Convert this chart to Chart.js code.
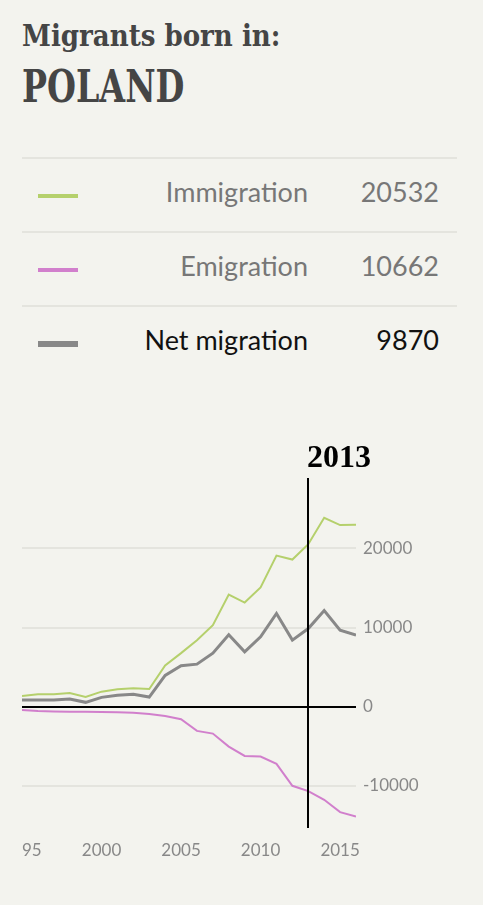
<!DOCTYPE html>
<html>
<head>
<meta charset="utf-8">
<script src="https://cdn.jsdelivr.net/npm/chart.js@4.4.0/dist/chart.umd.min.js"></script>
<style>
html, body { margin: 0; padding: 0; background: #f3f3ee; }
body { width: 483px; height: 905px; position: relative; overflow: hidden; font-family: Lato, sans-serif; }
.title { position: absolute; left: 22px; margin: 0; color: #454545; font-family: "DejaVu Serif", serif; font-weight: bold; font-stretch: condensed; white-space: nowrap; transform-origin: left top; }
#t1 { top: 22px; font-size: 29px; line-height: 29px; }
#t2 { top: 65px; font-size: 44px; line-height: 44px; transform: scaleX(0.84); }
.rule { position: absolute; left: 22px; width: 435px; height: 2px; background: #e4e4de; }
.swatch { position: absolute; left: 38px; width: 40px; }
.lbl, .val { position: absolute; font-size: 27px; line-height: 32px; white-space: nowrap; text-align: right; }
.lbl { right: 175px; }
.val { right: 44px; }
#chartBox { position: absolute; left: 22px; top: 440px; width: 461px; height: 465px; }
</style>
</head>
<body>
<div id="t1" class="title">Migrants born in:</div>
<div id="t2" class="title">POLAND</div>
<div id="legend"></div>
<div id="chartBox"><canvas id="migrationChart" width="461" height="465"></canvas></div>

<script>
// Poland, migrants by country of birth
var years = [1995, 1996, 1997, 1998, 1999, 2000, 2001, 2002, 2003, 2004, 2005,
             2006, 2007, 2008, 2009, 2010, 2011, 2012, 2013, 2014, 2015, 2016];
var immigration = [1350, 1560, 1560, 1730, 1220, 1900, 2190, 2320, 2230, 5220, 6770,
                   8400, 10300, 14170, 13160, 15060, 19090, 18590, 20532, 23880, 22950, 23000];
var emigration = [-420, -540, -600, -630, -640, -670, -700, -760, -920, -1170, -1590,
                  -3060, -3400, -5040, -6220, -6300, -7230, -10000, -10662, -11770, -13320, -13870];
var netMigration = [850, 850, 850, 970, 550, 1180, 1440, 1560, 1220, 3960, 5170,
                    5380, 6770, 9080, 6940, 8830, 11780, 8410, 9870, 12160, 9670, 9040];
var seriesNames = ["Immigration", "Emigration", "Net migration"];
var yTicks = [-10000, 0, 10000, 20000];
var markerYear = 2013;

var series = [immigration, emigration, netMigration];
var colors = ["#b5d06c", "#d17fcc", "#888888"];
var lineWidths = [2, 2, 3];
var swatchHeights = [4, 4, 6];
var textColors = ["#777777", "#777777", "#111111"];

// legend rows
function buildLegend() {
    var box = document.getElementById("legend");
    var idx = years.indexOf(markerYear);
    var html = "";
    for (var i = 0; i < seriesNames.length; i++) {
        var top = 157 + i * 74;
        html += '<div class="rule" style="top:' + top + 'px"></div>';
        html += '<div class="swatch" style="top:' + (top + 39 - swatchHeights[i] / 2) + 'px;height:' + swatchHeights[i] + 'px;background:' + colors[i] + '"></div>';
        html += '<div class="lbl" style="top:' + (top + 19) + 'px;color:' + textColors[i] + '">' + seriesNames[i] + '</div>';
        html += '<div class="val" style="top:' + (top + 19) + 'px;color:' + textColors[i] + '">' + Math.abs(series[i][idx]) + '</div>';
    }
    box.innerHTML = html;
}

var markerPlugin = {
    id: 'yearMarker',
    afterDatasetsDraw: function (chart) {
        var ctx = chart.ctx;
        var area = chart.chartArea;
        var px = Math.round(chart.scales.x.getPixelForValue(markerYear));
        ctx.save();
        ctx.strokeStyle = '#000';
        ctx.lineWidth = 2;
        ctx.beginPath();
        ctx.moveTo(px, area.top);
        ctx.lineTo(px, area.bottom);
        ctx.stroke();
        ctx.fillStyle = '#000';
        ctx.font = 'bold 32px "Liberation Serif"';
        ctx.textAlign = 'left';
        ctx.textBaseline = 'alphabetic';
        ctx.fillText(String(markerYear), px - 1, area.top - 11);
        ctx.restore();
    }
};

function bindChart() {
    var datasets = [];
    for (var i = 0; i < series.length; i++) {
        var points = [];
        for (var j = 0; j < years.length; j++) {
            points.push({ x: years[j], y: series[i][j] });
        }
        datasets.push({
            label: seriesNames[i],
            data: points,
            borderColor: colors[i],
            borderWidth: lineWidths[i],
            pointRadius: 0,
            tension: 0,
            fill: false
        });
    }

    var ctx = document.getElementById("migrationChart").getContext('2d');
    var myChart = new Chart(ctx, {
        type: 'line',
        data: { datasets: datasets },
        options: {
            responsive: false,
            animation: false,
            layout: { padding: { top: 38, left: 0, right: 0, bottom: 0 } },
            plugins: { legend: { display: false }, tooltip: { enabled: false } },
            scales: {
                x: {
                    type: 'linear',
                    min: 1995,
                    max: 2016,
                    grid: { display: false },
                    border: { display: false },
                    ticks: {
                        stepSize: 5,
                        includeBounds: false,
                        autoSkip: false,
                        maxRotation: 0,
                        padding: 4,
                        color: '#888888',
                        font: { family: 'Lato', size: 17 },
                        callback: function (v) { return String(v); }
                    },
                    afterFit: function (s) { s.paddingLeft = 0; s.paddingRight = 0; s.height = 77; }
                },
                y: {
                    position: 'right',
                    min: -15330,
                    max: 28900,
                    grid: {
                        color: function (c) { return c.tick && c.tick.value === 0 ? '#000' : '#e4e4de'; },
                        lineWidth: 2,
                        drawTicks: false
                    },
                    border: { display: false },
                    afterBuildTicks: function (s) {
                        s.ticks = yTicks.map(function (v) { return { value: v }; });
                    },
                    ticks: {
                        padding: 7,
                        color: '#888888',
                        font: { family: 'Lato', size: 17 },
                        callback: function (v) { return String(v); }
                    },
                    afterFit: function (s) { s.paddingTop = 0; s.paddingBottom = 0; s.width = 127; }
                }
            }
        },
        plugins: [markerPlugin]
    });
}

buildLegend();
bindChart();
</script>
</body>
</html>
